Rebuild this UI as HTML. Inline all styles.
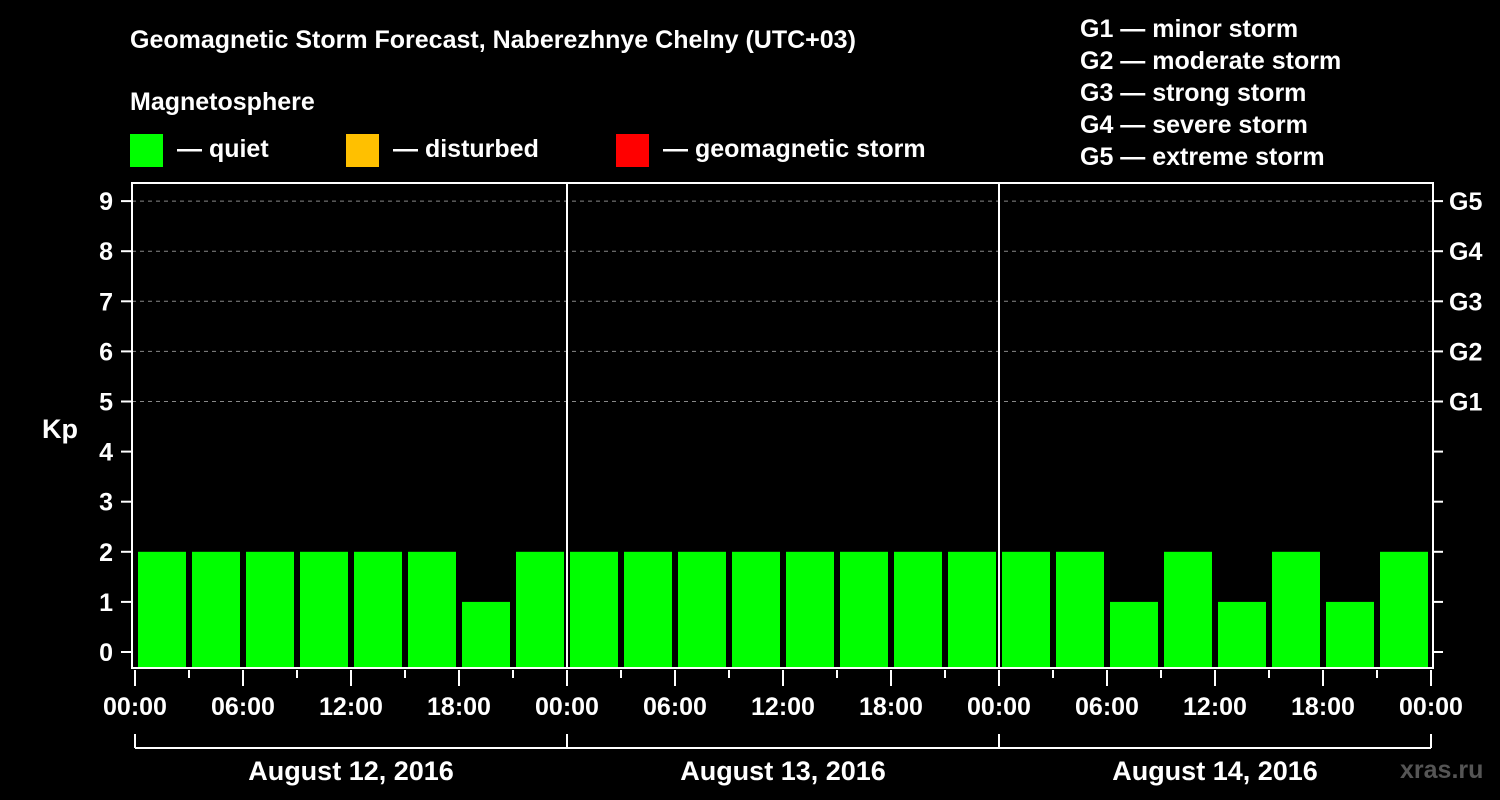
<!DOCTYPE html>
<html><head><meta charset="utf-8"><style>
html,body{margin:0;padding:0;background:#000;width:1500px;height:800px;overflow:hidden}
svg{display:block;font-family:"Liberation Sans",Arial,sans-serif;font-weight:bold}
</style></head><body>
<svg id="chart" width="1500" height="800" viewBox="0 0 1500 800">
<text x="130" y="48" fill="#fff" font-size="25">Geomagnetic Storm Forecast, Naberezhnye Chelny (UTC+03)</text>
<text x="130" y="110" fill="#fff" font-size="25">Magnetosphere</text>
<g><rect x="130" y="134" width="33" height="33" fill="#00ff00"/><text x="177" y="157" fill="#fff" font-size="25">— quiet</text></g>
<g><rect x="346" y="134" width="33" height="33" fill="#ffc000"/><text x="393" y="157" fill="#fff" font-size="25">— disturbed</text></g>
<g><rect x="616" y="134" width="33" height="33" fill="#ff0000"/><text x="663" y="157" fill="#fff" font-size="25">— geomagnetic storm</text></g>
<g fill="#fff" font-size="25">
<text x="1080" y="37">G1 — minor storm</text><text x="1080" y="69">G2 — moderate storm</text><text x="1080" y="101">G3 — strong storm</text><text x="1080" y="133">G4 — severe storm</text><text x="1080" y="165">G5 — extreme storm</text></g>
<text x="42" y="438" fill="#fff" font-size="27">Kp</text>
<text x="1400" y="778" fill="#555" font-size="25">xras.ru</text>
<g id="grid"></g><g id="bars"></g><g id="axes"></g>
</svg>
<script>
const kpValues=[2,2,2,2,2,2,1,2, 2,2,2,2,2,2,2,2, 2,2,1,2,1,2,1,2];
const dayLabels=["August 12, 2016","August 13, 2016","August 14, 2016"];
const hourLabels=["00:00","06:00","12:00","18:00"];
const yTicks=[0,1,2,3,4,5,6,7,8,9];
const gLabels=["G1","G2","G3","G4","G5"];
const NS="http://www.w3.org/2000/svg";
const X0=135,SLOT=54,L=132,R=1433,T=183,B=668;
const y=v=>652-v*50.1;
const x=i=>X0+i*SLOT;
function mk(tag,at,parent,txt){const e=document.createElementNS(NS,tag);for(const k in at)e.setAttribute(k,at[k]);if(txt!==undefined)e.textContent=txt;document.getElementById(parent).appendChild(e);return e;}
// grid
for(let v=5;v<=9;v++){const l=mk('line',{x1:L,x2:R,y1:y(v),y2:y(v),stroke:'#888','stroke-dasharray':'4,4'},'grid');

}
// bars
kpValues.forEach((v,i)=>{const c=v>=5?'#ff0000':(v>=4?'#ffc000':'#00ff00');
const r=mk('rect',{x:x(i)+3,y:y(v),width:48,height:B-y(v),fill:c},'bars');

});
// axes frame
const f=mk('rect',{x:L,y:T,width:R-L,height:B-T,fill:'none',stroke:'#fff','stroke-width':2},'axes');


for(let d=1;d<3;d++){const l=mk('line',{x1:x(d*8),x2:x(d*8),y1:T,y2:B,stroke:'#fff','stroke-width':2},'axes');

}
yTicks.forEach(v=>{mk('line',{x1:121,x2:L,y1:y(v),y2:y(v),stroke:'#fff','stroke-width':2},'axes');
mk('line',{x1:R,x2:R+10,y1:y(v),y2:y(v),stroke:'#fff','stroke-width':2},'axes');
const t=mk('text',{x:113,y:y(v)+9,fill:'#fff','font-size':25,'text-anchor':'end'},'axes',String(v));

});
gLabels.forEach((g,i)=>{const t=mk('text',{x:1449,y:y(5+i)+9,fill:'#fff','font-size':25},'axes',g);

});
for(let i=0;i<=24;i++){const long=i%2===0;mk('line',{x1:x(i),x2:x(i),y1:670,y2:long?686:678,stroke:'#fff','stroke-width':2},'axes');
if(long){const t=mk('text',{x:x(i),y:715,fill:'#fff','font-size':25,'text-anchor':'middle'},'axes',hourLabels[(i/2)%4]);

}}
mk('line',{x1:x(0),x2:x(24),y1:748,y2:748,stroke:'#fff','stroke-width':2},'axes');
for(let d=0;d<=3;d++)mk('line',{x1:x(d*8),x2:x(d*8),y1:734,y2:748,stroke:'#fff','stroke-width':2},'axes');
dayLabels.forEach((s,d)=>{const t=mk('text',{x:x(d*8+4),y:780,fill:'#fff','font-size':27,'text-anchor':'middle'},'axes',s);

});
</script>
</body></html>
